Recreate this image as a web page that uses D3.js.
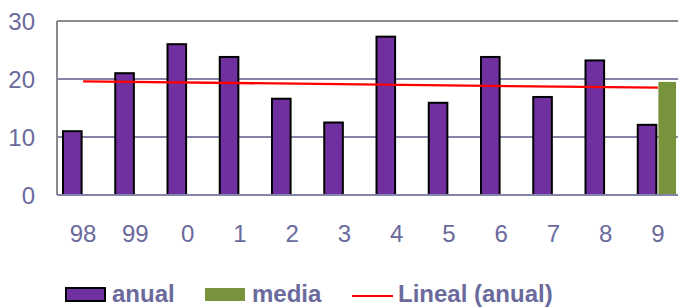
<!DOCTYPE html>
<html>
  <head>
    <meta charset="utf-8">
    <title>anual / media</title>
    <script src="https://d3js.org/d3.v7.min.js"></script>
    <style>
      body { margin: 0; background: #fff; }
      text { font-family: "Liberation Sans", Arial, sans-serif; }
    </style>
  </head>
  <body>
    <script>
      var categories = ["98", "99", "0", "1", "2", "3", "4", "5", "6", "7", "8", "9"];
      var anual = [11, 21, 26, 23.8, 16.6, 12.5, 27.3, 15.9, 23.8, 16.9, 23.2, 12.1];
      var media = [null, null, null, null, null, null, null, null, null, null, null, 19.5];
      var trendEnds = [19.6, 18.5];   // Lineal (anual), first and last category
      var yTicks = [0, 10, 20, 30];

      var width = 678, height = 307;
      var plotLeft = 57, plotTop = 21, plotBottom = 195, plotRight = 684;

      var svg = d3.select("body").append("svg").attr("width", width).attr("height", height);

      var x = d3.scaleBand().domain(categories).range([plotLeft, plotRight]);
      var xs = d3.scaleBand().domain(["anual", "media"]).range([6, x.bandwidth() - 6]).paddingInner(0.05);
      var y = d3.scaleLinear().domain([0, 30]).range([plotBottom, plotTop]);

      // grid
      svg.selectAll("line.grid")
        .data(yTicks.slice(1, 3))
        .enter().append("line")
        .attr("x1", plotLeft).attr("x2", width)
        .attr("y1", function(d) { return y(d); }).attr("y2", function(d) { return y(d); })
        .attr("stroke", "#8484aa").attr("stroke-width", 2);
      svg.append("line").attr("x1", plotLeft).attr("x2", width).attr("y1", y(30)).attr("y2", y(30))
        .attr("stroke", "#8a8a8e").attr("stroke-width", 2);
      svg.append("line").attr("x1", plotLeft).attr("x2", plotLeft).attr("y1", y(30)).attr("y2", y(0))
        .attr("stroke", "#8a8a8e").attr("stroke-width", 2);

      // bars
      svg.selectAll("rect.anual")
        .data(anual)
        .enter().append("rect")
        .attr("x", function(d, i) { return x(categories[i]) + xs("anual"); })
        .attr("y", function(d) { return y(d); })
        .attr("width", xs.bandwidth() - 1)
        .attr("height", function(d) { return y(0) - y(d); })
        .attr("fill", "#7030a0").attr("stroke", "#000").attr("stroke-width", 2);

      svg.selectAll("rect.media")
        .data(media.map(function(v, i) { return { v: v, c: categories[i] }; }).filter(function(d) { return d.v != null; }))
        .enter().append("rect")
        .attr("x", function(d) { return x(d.c) + xs("media"); })
        .attr("y", function(d) { return y(d.v); })
        .attr("width", xs.bandwidth() - 2)
        .attr("height", function(d) { return y(0) - y(d.v); })
        .attr("fill", "#77933c");

      // axis line at 0
      svg.append("line").attr("x1", plotLeft).attr("x2", width).attr("y1", y(0)).attr("y2", y(0))
        .attr("stroke", "#8484aa").attr("stroke-width", 2);

      // trend line
      svg.append("line")
        .attr("x1", x(categories[0]) + x.bandwidth() / 2)
        .attr("x2", x(categories[categories.length - 1]) + x.bandwidth() / 2)
        .attr("y1", y(trendEnds[0])).attr("y2", y(trendEnds[1]))
        .attr("stroke", "#ff0000").attr("stroke-width", 2.3);

      // y labels
      svg.selectAll("text.ylab")
        .data(yTicks)
        .enter().append("text")
        .attr("x", 35).attr("y", function(d) { return y(d); })
        .attr("dy", "0.36em").attr("text-anchor", "end")
        .attr("font-size", 24).attr("fill", "#6a6a9c")
        .text(function(d) { return d; });

      // x labels
      svg.selectAll("text.xlab")
        .data(categories)
        .enter().append("text")
        .attr("x", function(d) { return x(d) + x.bandwidth() / 2; })
        .attr("y", 233).attr("dy", "0.36em").attr("text-anchor", "middle")
        .attr("font-size", 24).attr("fill", "#6a6a9c")
        .text(function(d) { return d; });

      // legend
      var lg = svg.append("g").attr("font-size", 24).attr("font-weight", "bold").attr("fill", "#6a6a9c");
      lg.append("rect").attr("x", 66).attr("y", 288).attr("width", 39).attr("height", 13)
        .attr("fill", "#7030a0").attr("stroke", "#000").attr("stroke-width", 2);
      lg.append("text").attr("x", 112).attr("y", 293).attr("dy", "0.36em").text("anual");
      lg.append("rect").attr("x", 205).attr("y", 288).attr("width", 40).attr("height", 13)
        .attr("fill", "#77933c");
      lg.append("text").attr("x", 252).attr("y", 293).attr("dy", "0.36em").text("media");
      lg.append("line").attr("x1", 352).attr("x2", 393).attr("y1", 296).attr("y2", 296)
        .attr("stroke", "#ff0000").attr("stroke-width", 2);
      lg.append("text").attr("x", 398).attr("y", 293).attr("dy", "0.36em").text("Lineal (anual)");
    </script>
  </body>
</html>
